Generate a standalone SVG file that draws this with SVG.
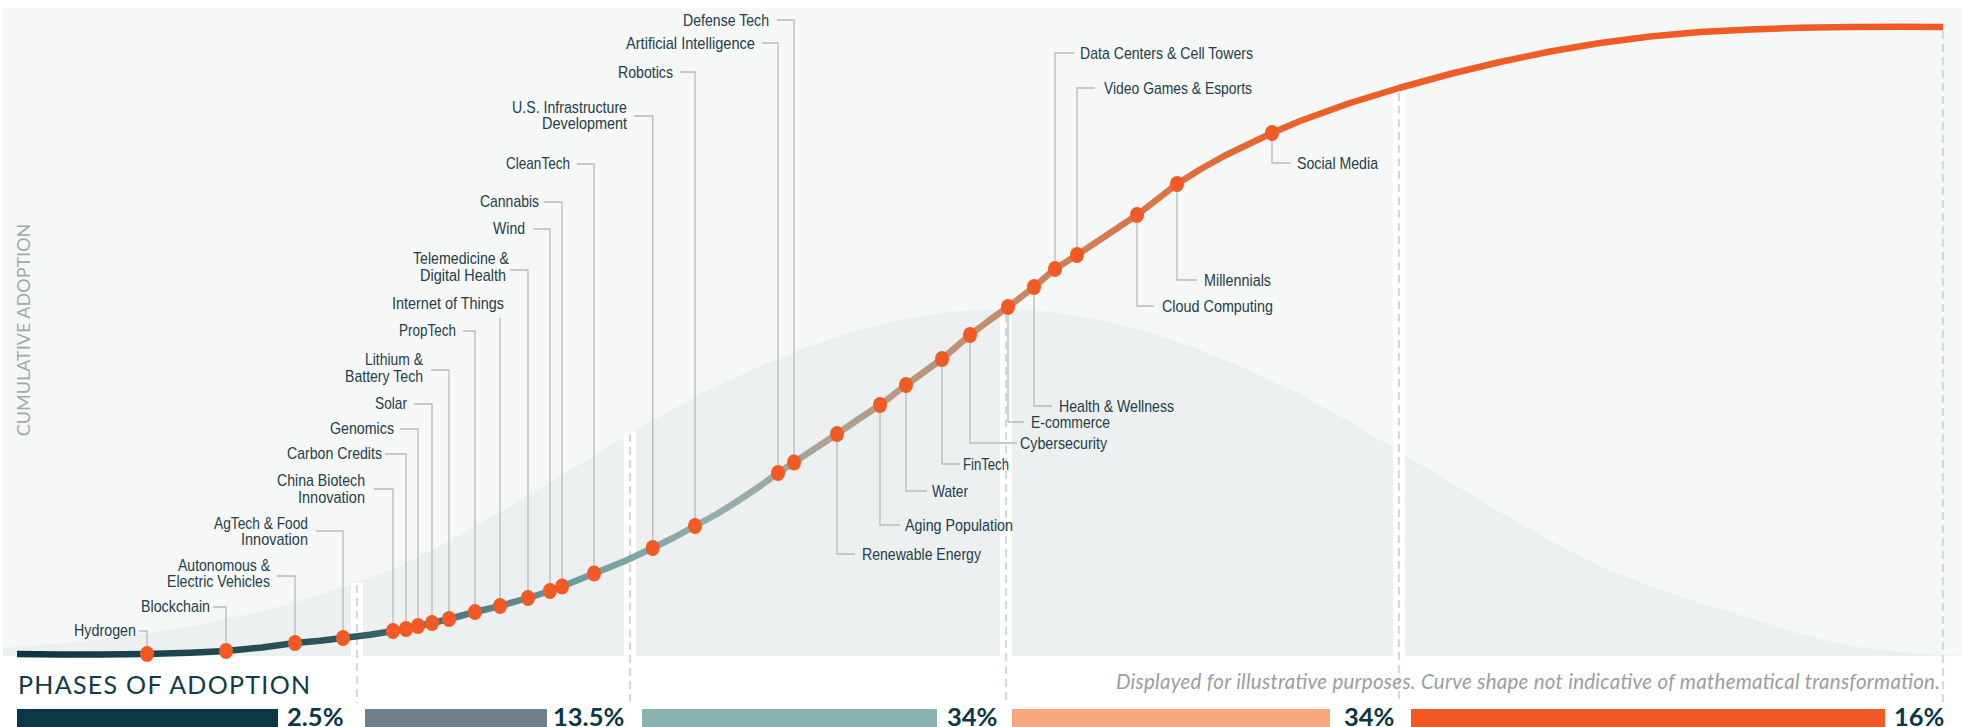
<svg xmlns="http://www.w3.org/2000/svg" width="1962" height="727" viewBox="0 0 1962 727">
<defs>
<style>
.lbl{font-family:"Liberation Sans",Arial,sans-serif;font-size:17px;fill:#243e48}
.end{text-anchor:end}
.ld{fill:none;stroke:#b6babc;stroke-width:1.3}
.dot{fill:#f15a24}
.band{fill:#ffffff}
.dash{stroke:#d2dadd;stroke-width:2.2;stroke-dasharray:8 5;fill:none}
.pct{font-family:Lato,"Liberation Sans",sans-serif;font-weight:700;font-size:25.5px;fill:#0b3746}
</style>
<linearGradient id="sg" gradientUnits="userSpaceOnUse" x1="17" y1="0" x2="1943" y2="0">
<stop offset="0" stop-color="#0b3540"/>
<stop offset="0.17" stop-color="#2d585e"/>
<stop offset="0.30" stop-color="#76a0a0"/>
<stop offset="0.36" stop-color="#90b0ad"/>
<stop offset="0.41" stop-color="#a7a596"/>
<stop offset="0.46" stop-color="#b69881"/>
<stop offset="0.51" stop-color="#c48c6a"/>
<stop offset="0.56" stop-color="#d27d52"/>
<stop offset="0.63" stop-color="#e46a35"/>
<stop offset="0.69" stop-color="#ef5d27"/>
<stop offset="1" stop-color="#f15a24"/>
</linearGradient>
</defs>

<g id="background">
<rect x="3" y="8" width="1959" height="648" fill="#f6f8f8"/>
<path id="bell" fill="#ecf0f1" d="M3,656 L3,648 L17,646.8 L50,644.3 L100,639.4 L150,633 L200,624.6 L250,614 L300,600.8 L350,584.9 L400,566.1 L450,540.5 L500,512.2 L550,482.3 L600,451.9 L650,422 L700,394.1 L750,370.6 L800,349.8 L850,332.6 L900,319.7 L950,311.7 L1000,309 L1050,311.7 L1100,319.7 L1150,332.6 L1200,349.8 L1250,370.6 L1300,394.1 L1350,422 L1400,451.9 L1450,482.3 L1500,512.2 L1550,540.5 L1600,566.1 L1650,586 L1700,603 L1750,618 L1800,634 L1850,646 L1900,652 L1943,655 L1962,655.5 L1962,656 Z"/>
</g>

<g id="phase-dividers">
<rect class="band" x="351" y="583" width="12" height="73"/>
<rect class="band" x="624" y="432" width="12" height="224"/>
<rect class="band" x="1000" y="313" width="12" height="343"/>
<rect class="band" x="1393" y="90" width="12" height="566"/>
<line class="dash" x1="357" y1="585" x2="357" y2="703"/>
<line class="dash" x1="630" y1="434" x2="630" y2="703"/>
<line class="dash" x1="1006" y1="315" x2="1006" y2="703"/>
<line class="dash" x1="1399" y1="93" x2="1399" y2="703"/>
<line class="dash" x1="1943" y1="31" x2="1943" y2="703"/>
</g>

<g id="connectors">
<polyline class="ld" points="139,631 147,631 147,654"/>
<polyline class="ld" points="213,607 226,607 226,651"/>
<polyline class="ld" points="277,576 295,576 295,643"/>
<polyline class="ld" points="316,531 343,531 343,638"/>
<polyline class="ld" points="374,489 393,489 393,631"/>
<polyline class="ld" points="385,454 406,454 406,629"/>
<polyline class="ld" points="400,429 418,429 418,626"/>
<polyline class="ld" points="414,404 432,404 432,623"/>
<polyline class="ld" points="431,370 449,370 449,619"/>
<polyline class="ld" points="463,331 475,331 475,612"/>
<polyline class="ld" points="500,318 500,606"/>
<polyline class="ld" points="510,270 528,270 528,598"/>
<polyline class="ld" points="533,229 550,229 550,591"/>
<polyline class="ld" points="544,202 562,202 562,586"/>
<polyline class="ld" points="577,164 594,164 594,573"/>
<polyline class="ld" points="634,116 652.7,116 652.7,548"/>
<polyline class="ld" points="680,72 695,72 695,526"/>
<polyline class="ld" points="762,43 778,43 778,473"/>
<polyline class="ld" points="777,20 794,20 794,462"/>
<polyline class="ld" points="837,434 837,554 855,554"/>
<polyline class="ld" points="880,405 880,525 900,525"/>
<polyline class="ld" points="906,385 906,491 927,491"/>
<polyline class="ld" points="942,359 942,464 960,464"/>
<polyline class="ld" points="970,335 970,443 1017,443"/>
<polyline class="ld" points="1008,307 1008,422 1024,422"/>
<polyline class="ld" points="1034,287 1034,406 1052,406"/>
<polyline class="ld" points="1055,269 1055,53 1074,53"/>
<polyline class="ld" points="1077,255 1077,88 1095,88"/>
<polyline class="ld" points="1137,215 1137,306 1154,306"/>
<polyline class="ld" points="1177,184 1177,280 1197,280"/>
<polyline class="ld" points="1272,133 1272,163 1291,163"/>
</g>

<g id="adoption-curve">
<polyline fill="none" stroke="url(#sg)" stroke-width="6.5" stroke-linejoin="round" stroke-linecap="butt" points="17,654 60,654.5 100,654.5 147,654 190,652.8 226,651 262,647.5 295,643 320,640.8 343,638 370,634.8 393,631 406,629 418,626 432,623 449,619 475,612 500,606 528,598 550,591 562,586.5 594,573.5 625,561 652.7,548 674,537.5 695,526 717,514 737,501.5 758,487.5 778,473 794,462.5 815,448.5 837,434 858,419.5 880,405 906,385 924,372 942,359 956,347 970,335 989,320.5 1008,307 1021,297 1034,287 1045,277.5 1055,269 1066,262 1077,255 1107,235 1137,215 1157,199.5 1177,184 1200,169.5 1225,155.5 1250,143.5 1272,133 1300,121 1350,103 1399,88 1450,74 1500,62 1550,51.5 1600,43 1650,36.5 1700,32 1750,29.5 1800,27.8 1850,27 1900,26.8 1943,27"/>
</g>

<g id="nodes">
<g id="n-hydrogen"><ellipse class="dot" cx="147" cy="654" rx="7" ry="8"/><text class="lbl end" x="136" y="636" textLength="62" lengthAdjust="spacingAndGlyphs">Hydrogen</text></g>
<g id="n-blockchain"><ellipse class="dot" cx="226" cy="651" rx="7" ry="8"/><text class="lbl end" x="210" y="612" textLength="69" lengthAdjust="spacingAndGlyphs">Blockchain</text></g>
<g id="n-autonomous"><ellipse class="dot" cx="295" cy="643" rx="7" ry="8"/><text class="lbl end" x="270" y="571" textLength="92" lengthAdjust="spacingAndGlyphs">Autonomous &amp;</text><text class="lbl end" x="270" y="587" textLength="103" lengthAdjust="spacingAndGlyphs">Electric Vehicles</text></g>
<g id="n-agtech"><ellipse class="dot" cx="343" cy="638" rx="7" ry="8"/><text class="lbl end" x="308" y="529" textLength="94" lengthAdjust="spacingAndGlyphs">AgTech &amp; Food</text><text class="lbl end" x="308" y="545" textLength="67" lengthAdjust="spacingAndGlyphs">Innovation</text></g>
<g id="n-china-biotech"><ellipse class="dot" cx="393" cy="631" rx="7" ry="8"/><text class="lbl end" x="365" y="486" textLength="88" lengthAdjust="spacingAndGlyphs">China Biotech</text><text class="lbl end" x="365" y="503" textLength="67" lengthAdjust="spacingAndGlyphs">Innovation</text></g>
<g id="n-carbon"><ellipse class="dot" cx="406" cy="629" rx="7" ry="8"/><text class="lbl end" x="382" y="459" textLength="95" lengthAdjust="spacingAndGlyphs">Carbon Credits</text></g>
<g id="n-genomics"><ellipse class="dot" cx="418" cy="626" rx="7" ry="8"/><text class="lbl end" x="394" y="434" textLength="64" lengthAdjust="spacingAndGlyphs">Genomics</text></g>
<g id="n-solar"><ellipse class="dot" cx="432" cy="623" rx="7" ry="8"/><text class="lbl end" x="407" y="409" textLength="32" lengthAdjust="spacingAndGlyphs">Solar</text></g>
<g id="n-lithium"><ellipse class="dot" cx="449" cy="619" rx="7" ry="8"/><text class="lbl end" x="423" y="365" textLength="58" lengthAdjust="spacingAndGlyphs">Lithium &amp;</text><text class="lbl end" x="423" y="382" textLength="78" lengthAdjust="spacingAndGlyphs">Battery Tech</text></g>
<g id="n-proptech"><ellipse class="dot" cx="475" cy="612" rx="7" ry="8"/><text class="lbl end" x="456" y="336" textLength="57" lengthAdjust="spacingAndGlyphs">PropTech</text></g>
<g id="n-iot"><ellipse class="dot" cx="500" cy="606" rx="7" ry="8"/><text class="lbl end" x="504" y="309" textLength="112" lengthAdjust="spacingAndGlyphs">Internet of Things</text></g>
<g id="n-telemedicine"><ellipse class="dot" cx="528" cy="598" rx="7" ry="8"/><text class="lbl end" x="509" y="264" textLength="96" lengthAdjust="spacingAndGlyphs">Telemedicine &amp;</text><text class="lbl end" x="506" y="281" textLength="86" lengthAdjust="spacingAndGlyphs">Digital Health</text></g>
<g id="n-wind"><ellipse class="dot" cx="550" cy="591" rx="7" ry="8"/><text class="lbl end" x="525" y="234" textLength="32" lengthAdjust="spacingAndGlyphs">Wind</text></g>
<g id="n-cannabis"><ellipse class="dot" cx="562" cy="586.5" rx="7" ry="8"/><text class="lbl end" x="539" y="207" textLength="59" lengthAdjust="spacingAndGlyphs">Cannabis</text></g>
<g id="n-cleantech"><ellipse class="dot" cx="594" cy="573.5" rx="7" ry="8"/><text class="lbl end" x="570" y="169" textLength="64" lengthAdjust="spacingAndGlyphs">CleanTech</text></g>
<g id="n-infrastructure"><ellipse class="dot" cx="652.7" cy="548" rx="7" ry="8"/><text class="lbl end" x="627" y="113" textLength="115" lengthAdjust="spacingAndGlyphs">U.S. Infrastructure</text><text class="lbl end" x="627" y="129" textLength="85" lengthAdjust="spacingAndGlyphs">Development</text></g>
<g id="n-robotics"><ellipse class="dot" cx="695" cy="526" rx="7" ry="8"/><text class="lbl end" x="673" y="78" textLength="55" lengthAdjust="spacingAndGlyphs">Robotics</text></g>
<g id="n-ai"><ellipse class="dot" cx="778" cy="473" rx="7" ry="8"/><text class="lbl end" x="755" y="49" textLength="129" lengthAdjust="spacingAndGlyphs">Artificial Intelligence</text></g>
<g id="n-defense"><ellipse class="dot" cx="794" cy="462.5" rx="7" ry="8"/><text class="lbl end" x="769" y="26" textLength="86" lengthAdjust="spacingAndGlyphs">Defense Tech</text></g>
<g id="n-renewable"><ellipse class="dot" cx="837" cy="434" rx="7" ry="8"/><text class="lbl" x="862" y="560" textLength="119" lengthAdjust="spacingAndGlyphs">Renewable Energy</text></g>
<g id="n-aging"><ellipse class="dot" cx="880" cy="405" rx="7" ry="8"/><text class="lbl" x="905" y="531" textLength="108" lengthAdjust="spacingAndGlyphs">Aging Population</text></g>
<g id="n-water"><ellipse class="dot" cx="906" cy="385" rx="7" ry="8"/><text class="lbl" x="932" y="497" textLength="36" lengthAdjust="spacingAndGlyphs">Water</text></g>
<g id="n-fintech"><ellipse class="dot" cx="942" cy="359" rx="7" ry="8"/><text class="lbl" x="963" y="470" textLength="46" lengthAdjust="spacingAndGlyphs">FinTech</text></g>
<g id="n-cyber"><ellipse class="dot" cx="970" cy="335" rx="7" ry="8"/><text class="lbl" x="1020" y="449" textLength="87" lengthAdjust="spacingAndGlyphs">Cybersecurity</text></g>
<g id="n-ecommerce"><ellipse class="dot" cx="1008" cy="307" rx="7" ry="8"/><text class="lbl" x="1031" y="428" textLength="79" lengthAdjust="spacingAndGlyphs">E-commerce</text></g>
<g id="n-health"><ellipse class="dot" cx="1034" cy="287" rx="7" ry="8"/><text class="lbl" x="1059" y="412" textLength="115" lengthAdjust="spacingAndGlyphs">Health &amp; Wellness</text></g>
<g id="n-datacenters"><ellipse class="dot" cx="1055" cy="269" rx="7" ry="8"/><text class="lbl" x="1080" y="59" textLength="173" lengthAdjust="spacingAndGlyphs">Data Centers &amp; Cell Towers</text></g>
<g id="n-videogames"><ellipse class="dot" cx="1077" cy="255" rx="7" ry="8"/><text class="lbl" x="1104" y="94" textLength="148" lengthAdjust="spacingAndGlyphs">Video Games &amp; Esports</text></g>
<g id="n-cloud"><ellipse class="dot" cx="1137" cy="215" rx="7" ry="8"/><text class="lbl" x="1162" y="312" textLength="111" lengthAdjust="spacingAndGlyphs">Cloud Computing</text></g>
<g id="n-millennials"><ellipse class="dot" cx="1177" cy="184" rx="7" ry="8"/><text class="lbl" x="1204" y="286" textLength="67" lengthAdjust="spacingAndGlyphs">Millennials</text></g>
<g id="n-social"><ellipse class="dot" cx="1272" cy="133" rx="7" ry="8"/><text class="lbl" x="1297" y="169" textLength="81" lengthAdjust="spacingAndGlyphs">Social Media</text></g>
</g>

<g id="axis-label">
<text x="30" y="330" transform="rotate(-90 30 330)" text-anchor="middle" font-family="Lato,'Liberation Sans',sans-serif" font-size="18" font-weight="400" fill="#a2a9ac">CUMULATIVE ADOPTION</text>
</g>

<g id="phases">
<text x="18" y="694" font-family="Lato,'Liberation Sans',sans-serif" font-size="25" letter-spacing="1.3" fill="#103c48">PHASES OF ADOPTION</text>
<text x="1940" y="689" text-anchor="end" font-family="Lato,'Liberation Sans',sans-serif" font-style="italic" font-size="20.5" textLength="824" fill="#9a9ea0">Displayed for illustrative purposes. Curve shape not indicative of mathematical transformation.</text>
<g id="phase-1"><rect x="17" y="709" width="261" height="18" fill="#0b3746"/><text class="pct" x="287" y="726">2.5%</text></g>
<g id="phase-2"><rect x="365" y="709" width="182" height="18" fill="#6f7f8b"/><text class="pct" x="553" y="726">13.5%</text></g>
<g id="phase-3"><rect x="642" y="709" width="295" height="18" fill="#8cb1b1"/><text class="pct" x="947" y="726">34%</text></g>
<g id="phase-4"><rect x="1012" y="709" width="318" height="18" fill="#f6a77e"/><text class="pct" x="1344" y="726">34%</text></g>
<g id="phase-5"><rect x="1411" y="709" width="474" height="18" fill="#f15a24"/><text class="pct" x="1894" y="726">16%</text></g>
</g>
</svg>
